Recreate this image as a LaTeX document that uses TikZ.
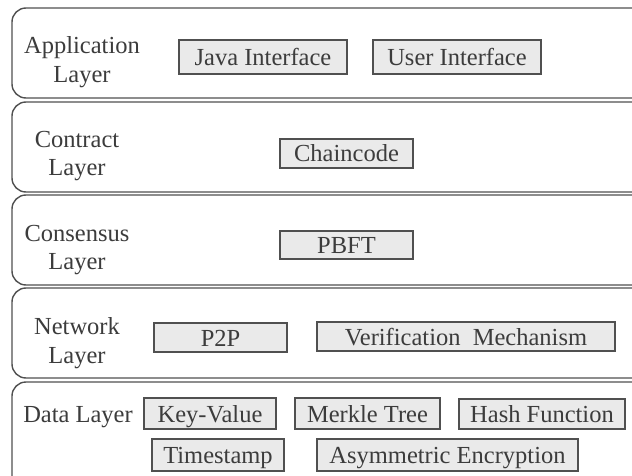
\documentclass[tikz,border=0pt]{standalone}
\usepackage{fontspec}
\setmainfont{Liberation Serif}
\definecolor{txt}{HTML}{3C3C3C}
\definecolor{edge}{HTML}{505050}
\definecolor{boxfill}{HTML}{EAEAEA}
\begin{document}
\begin{tikzpicture}[x=1pt,y=-1pt,
  layer/.style={draw=edge,line width=1.4pt,rounded corners=14pt},
  comp/.style={draw=edge,fill=boxfill,line width=1.1pt,inner sep=0pt,text=txt,text height=20pt,text depth=3pt,font=\fontsize{24.5}{29}\selectfont},
  lab/.style={align=center,text=txt,inner sep=0pt,font=\fontsize{24.5}{28.5}\selectfont}]
\useasboundingbox (0,0) rectangle (632,476);
\clip (0,0) rectangle (632,476);
\fill[white] (0,0) rectangle (632,476);
% layers
\draw[layer] (12,8) rectangle (680,98);
\draw[layer] (12,102) rectangle (680,192);
\draw[layer] (12,195) rectangle (680,285);
\draw[layer] (12,288) rectangle (680,378);
\draw[layer] (12,382) rectangle (680,520);
% labels
\node[lab] (lapp) at (82,62) {Application\\Layer};
\node[lab] (lcon) at (77,156) {Contract\\Layer};
\node[lab] (lcns) at (77,250) {Consensus\\Layer};
\node[lab] (lnet) at (77,343) {Network\\Layer};
\node[lab] (ldat) at (78,417) {Data Layer};
% components
\node[comp,minimum width=168pt,minimum height=34pt] (java) at (263,57) {Java Interface};
\node[comp,minimum width=168pt,minimum height=34pt] (user) at (457,57) {User Interface};
\node[comp,minimum width=133pt,minimum height=29pt] (chain) at (346.5,153.5) {Chaincode};
\node[comp,minimum width=133pt,minimum height=28pt] (pbft) at (346.5,245) {PBFT};
\node[comp,minimum width=133pt,minimum height=29pt] (p2p) at (220.5,337.5) {P2P};
\node[comp,minimum width=298pt,minimum height=29pt] (verif) at (466,336.5) {Verification\ \ Mechanism};
\node[comp,minimum width=132pt,minimum height=31pt] (kv) at (210,413.5) {Key-Value};
\node[comp,minimum width=145pt,minimum height=31pt] (merkle) at (367.5,413.5) {Merkle Tree};
\node[comp,minimum width=166pt,minimum height=30pt] (hash) at (542,414) {Hash Function};
\node[comp,minimum width=132pt,minimum height=32pt] (ts) at (218,455) {Timestamp};
\node[comp,minimum width=261pt,minimum height=32pt] (asym) at (447.5,455) {Asymmetric Encryption};
\end{tikzpicture}
\end{document}
